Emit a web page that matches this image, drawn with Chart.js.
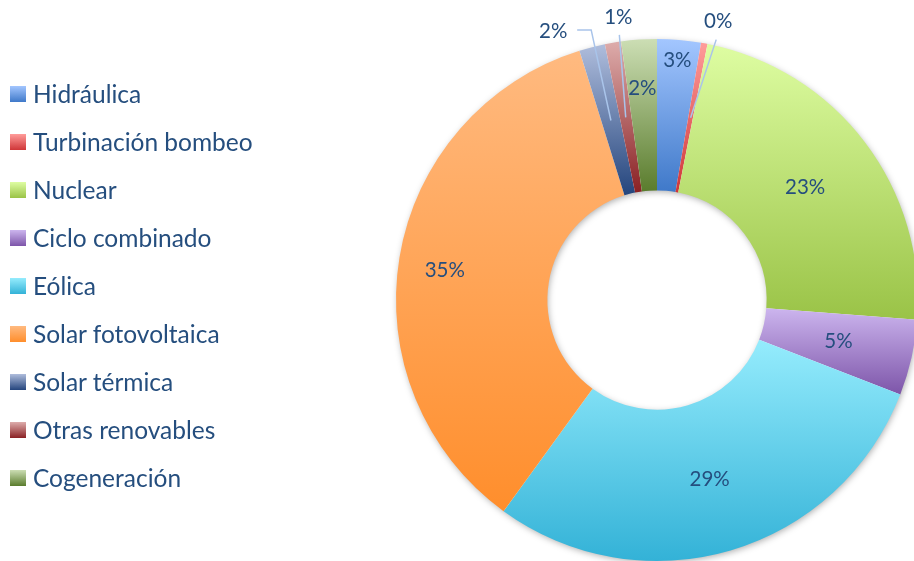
<!DOCTYPE html>
<html>
<head>
<meta charset="utf-8">
<script src="https://cdn.jsdelivr.net/npm/chart.js@4/dist/chart.umd.min.js"></script>
<style>
  html, body { margin: 0; padding: 0; background: #fff; }
  #wrap { position: relative; width: 914px; height: 561px; overflow: hidden; }
  #chart { position: absolute; left: 0; top: 0; }
  #legend { position: absolute; left: 0; top: 0; font-family: Lato, "Open Sans", sans-serif; font-size: 24.5px; color: #254E7E; }
  .item { position: absolute; left: 10px; height: 24px; line-height: 24px; white-space: nowrap; }
  .box { position: absolute; left: 0; top: 4px; width: 16px; height: 16px; }
  .txt { position: absolute; left: 23px; top: 0; }
</style>
</head>
<body>
<div id="wrap">
  <canvas id="chart" width="960" height="600"></canvas>
  <div id="legend"></div>
</div>
<script>
// Generation mix (%)
const labels = ["Hidráulica", "Turbinación bombeo", "Nuclear", "Ciclo combinado", "Eólica",
                "Solar fotovoltaica", "Solar térmica", "Otras renovables", "Cogeneración"];
const values = [2.7, 0.4, 23.1, 4.7, 29.1, 35.2, 1.6, 1.0, 2.2];

// gradient colours, top -> bottom of each slice
const topColors    = ["#A3C6FF", "#FF9C9A", "#DEFDA2", "#CCB5EE", "#95ECFD", "#FFBA80", "#AFBDDC", "#DDACAB", "#CCDEB4"];
const bottomColors = ["#3F79C9", "#CF3638", "#9AC347", "#7D55A9", "#33B2D7", "#FF8E2C", "#24457D", "#8A2124", "#5A7C2D"];

// label placement: inside labels use radius factor, outside ones use polar position + leader
const labelPlace = [
  { r: 0.92 },
  { out: true, deg: 12.4, r: 1.092, lx: -2, ly: 18, run: 0 },
  { r: 0.713 },
  { r: 0.713 },
  { r: 0.716 },
  { r: 0.824, dy: 5 },
  { out: true, deg: -21.1, r: 1.105, lx: 24, ly: -1, run: 14 },
  { out: true, deg: -7.8, r: 1.091, lx: 1, ly: 17, run: 0 },
  { r: 0.812 }
];

const CUT = 0.42;
const FONT = 'Lato, "Open Sans", sans-serif';
const TEXT_COLOR = "#254E7E";
const LEADER_COLOR = "#A9C4EA";

function sliceFill(c) {
  const chart = c.chart, area = chart.chartArea;
  const i = c.dataIndex;
  if (!area || c.type !== "data") return topColors[i];
  const cx = (area.left + area.right) / 2, cy = (area.top + area.bottom) / 2;
  const outer = Math.min(area.right - area.left, area.bottom - area.top) / 2;
  const inner = outer * CUT;
  const total = values.reduce((a, b) => a + b, 0);
  const before = values.slice(0, i).reduce((a, b) => a + b, 0);
  const start = before / total * 2 * Math.PI - Math.PI / 2;
  const end = start + values[i] / total * 2 * Math.PI;
  let yMin = Infinity, yMax = -Infinity;
  for (let k = 0; k <= 60; k++) {
    const a = start + (end - start) * k / 60;
    [inner, outer].forEach(r => {
      const y = cy + r * Math.sin(a);
      yMin = Math.min(yMin, y); yMax = Math.max(yMax, y);
    });
  }
  const g = chart.ctx.createLinearGradient(0, yMin, 0, yMax + 0.01);
  g.addColorStop(0, topColors[i]);
  g.addColorStop(1, bottomColors[i]);
  return g;
}

// soft shadow under the ring
const ringShadow = {
  id: "ringShadow",
  beforeDatasetsDraw(chart) {
    const arc = chart.getDatasetMeta(0).data[0];
    if (!arc) return;
    const ctx = chart.ctx;
    ctx.save();
    ctx.shadowColor = "rgba(0,0,0,0.35)";
    ctx.shadowBlur = 7;
    ctx.shadowOffsetX = 1;
    ctx.shadowOffsetY = 2;
    ctx.fillStyle = "#ffffff";
    ctx.beginPath();
    ctx.arc(arc.x, arc.y, arc.outerRadius - 1, 0, Math.PI * 2);
    ctx.arc(arc.x, arc.y, arc.innerRadius + 1, Math.PI * 2, 0, true);
    ctx.fill();
    ctx.restore();
  }
};

// percentage labels with leaders
const pctLabels = {
  id: "pctLabels",
  afterDatasetsDraw(chart) {
    const ctx = chart.ctx;
    const meta = chart.getDatasetMeta(0);
    ctx.save();
    ctx.font = "20.5px " + FONT;
    ctx.textAlign = "center";
    ctx.textBaseline = "middle";
    meta.data.forEach((arc, i) => {
      const mid = (arc.startAngle + arc.endAngle) / 2;
      const txt = Math.round(values[i]) + "%";
      const p = labelPlace[i];
      if (p.out) {
        const a = p.deg * Math.PI / 180 - Math.PI / 2;
        const lx = arc.x + arc.outerRadius * p.r * Math.cos(a);
        const ly = arc.y + arc.outerRadius * p.r * Math.sin(a);
        const rm = (arc.innerRadius + arc.outerRadius) / 2;
        const ex = arc.x + rm * Math.cos(mid), ey = arc.y + rm * Math.sin(mid);
        ctx.strokeStyle = LEADER_COLOR;
        ctx.lineWidth = 1.5;
        ctx.beginPath();
        ctx.moveTo(lx + p.lx, ly + p.ly);
        if (p.run) ctx.lineTo(lx + p.lx + p.run, ly + p.ly);
        ctx.lineTo(ex, ey);
        ctx.stroke();
        ctx.fillStyle = TEXT_COLOR;
        ctx.fillText(txt, lx, ly);
      } else {
        const r = arc.outerRadius * p.r;
        ctx.fillStyle = TEXT_COLOR;
        ctx.fillText(txt, arc.x + r * Math.cos(mid), arc.y + r * Math.sin(mid) + (p.dy || 0));
      }
    });
    ctx.restore();
  }
};

new Chart(document.getElementById("chart").getContext("2d"), {
  type: "doughnut",
  data: {
    labels: labels,
    datasets: [{
      data: values,
      backgroundColor: sliceFill,
      borderWidth: 0
    }]
  },
  options: {
    responsive: false,
    animation: false,
    events: [],
    devicePixelRatio: 1,
    cutout: (CUT * 100) + "%",
    layout: { padding: { left: 396, top: 39, right: 42, bottom: 39 } },
    plugins: { legend: { display: false }, tooltip: { enabled: false } }
  },
  plugins: [ringShadow, pctLabels]
});

// legend
const legendEl = document.getElementById("legend");
labels.forEach((name, i) => {
  const item = document.createElement("div");
  item.className = "item";
  item.style.top = (82 + i * 48) + "px";
  const box = document.createElement("span");
  box.className = "box";
  box.style.background = "linear-gradient(" + topColors[i] + ", " + bottomColors[i] + ")";
  const t = document.createElement("span");
  t.className = "txt";
  t.textContent = name;
  item.appendChild(box);
  item.appendChild(t);
  legendEl.appendChild(item);
});
</script>
</body>
</html>
